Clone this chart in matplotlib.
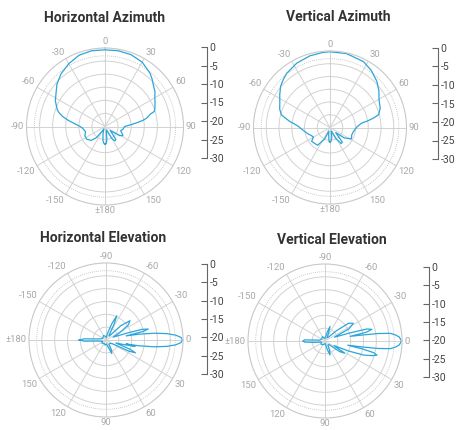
import numpy as np
import matplotlib
matplotlib.use('Agg')
import matplotlib.pyplot as plt
from matplotlib.transforms import ScaledTranslation

plt.rcParams['font.family'] = ['Roboto', 'DejaVu Sans']

# azimuth plots: angle in degrees, 0 = front, clockwise; gain in dB
ha_ang = [-180, -177, -172, -165, -155, -150, -142, -135, -125, -115, -105, -95, -90,
          -85, -80.7, -77, -73, -70, -62.5, -55, -48.5, -40, -30, -20, -10, 0, 10, 20,
          30, 40, 45, 50, 55, 60, 65, 70, 73, 75, 77, 79, 81, 83, 86, 90, 98, 105, 112,
          117, 122, 128, 133, 140, 145, 150, 158, 165, 172, 176, 180]
ha_db = [-23.3, -23.4, -24.5, -27, -29, -28, -24.5, -22.5, -21.5, -21.5, -22.3, -21.5, -20.5,
         -18.5, -15.9, -13.5, -11.5, -10.5, -8.6, -7.2, -5.5, -3.8, -2.3, -1.0, -0.6, -0.7, -0.6, -0.8,
         -1.6, -3.3, -4.5, -5.8, -6.7, -8.0, -8.9, -9.7, -10.3, -12.2, -13.0, -14.0, -15.5, -17.5, -20,
         -22.5, -23, -23.8, -23, -22.3, -23.5, -27.5, -26.5, -23.6, -23.3, -24.5, -28.5, -28, -25, -23.4, -23.3]

va_ang = [-180, -176, -170, -163, -155, -145, -135, -127, -120, -113, -106, -99, -93, -88,
          -84, -81.5, -78, -75.3, -70, -64, -57, -50.3, -44, -38.6, -27.4, -15.6, -5, 0, 12.6,
          26.8, 36, 45.4, 53, 60.5, 69, 75.3, 77.8, 80, 82, 88, 95, 102, 109, 118, 126, 132,
          140, 145, 152, 160, 170, 176, 180]
va_db = [-24.3, -24.5, -27, -28.5, -25, -21.5, -21.3, -21, -22.5, -22, -21, -20, -18.8, -17.6,
         -15.8, -14.1, -12, -10.3, -9.0, -8.1, -6.5, -4.8, -3.7, -2.8, -1.6, -0.8, -0.4, -0.3, -0.3,
         -1.0, -2.4, -4.2, -6.0, -7.9, -8.9, -10.3, -12.6, -15, -17.4, -19.3, -20.2, -20.8, -21, -20.5,
         -23, -27, -22.5, -22.3, -25, -28.5, -26, -24.5, -24.3]

# elevation plots: angle in degrees, 0 = horizon, clockwise (down) positive
he_ang = [-180, -177, -172, -160, -140, -120, -100, -85, -76, -70, -66, -63, -58, -50, -44,
          -38.8, -34, -28, -22, -18, -16.5, -14.6, -13, -11.5, -10, -8, -6, -4, -2, 0, 2, 4,
          6, 8, 10, 11, 12.3, 14, 17, 21, 23.5, 26, 30, 40, 55, 62, 67, 72, 85, 100, 120,
          140, 160, 172, 177, 180]
he_db = [-19.5, -21.5, -27, -28.5, -28.5, -28, -28.5, -29, -27, -23, -19.7, -23, -27.5, -28, -22,
         -18, -19.5, -24, -27, -21, -15.5, -13, -15, -22, -17, -11, -6.2, -2.8, -0.8, -0.2, -0.8, -2.8,
         -6.2, -11, -17, -22, -18.4, -22, -26, -20, -17.5, -20, -27, -28, -28, -25.3, -24.3, -27, -28.5,
         -28, -28.5, -28, -28.5, -27, -21.5, -19.5]

ve_ang = [-180, -177, -170, -150, -120, -95, -80, -76, -71, -66, -58, -48, -42, -37, -32,
          -27, -22, -18, -16, -14, -12, -10.5, -9, -8, -6.7, -5, -3, 0, 3, 5, 6.7, 8, 9,
          10.5, 12, 13.5, 15.2, 17, 20, 23, 27, 32, 36, 42, 55, 64, 70, 75, 85, 110, 140,
          165, 172, 177, 180]
ve_db = [-21.5, -22, -28, -28.5, -28, -29, -28, -26.5, -24, -26.5, -28.5, -28, -24, -18.5, -17,
         -19.5, -26, -20, -13, -11.2, -13.5, -20, -14.8, -9, -4.4, -2.5, -1.0, -0.2, -1.0, -2.5, -4.4, -9, -14.8,
         -21, -15, -10.5, -9, -10.5, -14, -20, -26, -21, -23, -28, -28, -26, -24.2, -26.5, -29, -28.5, -28,
         -28.5, -26, -22, -21.5]

grid_angles = np.arange(0, 360, 30)
angle_labels = ['0', '30', '60', '90', '120', '150', '\u00b1180',
                '-150', '-120', '-90', '-60', '-30']
scale_ticks = [0, -5, -10, -15, -20, -25, -30]

fig = plt.figure(figsize=(4.6, 4.3), dpi=100)
W, H = 460.0, 430.0
blue = '#2ba6da'
grid_c = '#d2d2d2'


def panel(cx, cy, R, ang, db, zero, title, tx, ty, sx, syt, syb):
    ax = fig.add_axes([(cx - R) / W, 1 - (cy + R) / H, 2 * R / W, 2 * R / H],
                      projection='polar')
    ax.set_theta_zero_location(zero)
    ax.set_theta_direction(-1)
    ax.set_ylim(-30, 0)
    ax.set_thetagrids(grid_angles, [''] * len(grid_angles))
    ax.set_rgrids([-25, -20, -15, -10, -5, -3], labels=[''] * 6)
    ax.grid(color=grid_c, lw=0.7)
    gl = ax.yaxis.get_gridlines()
    gl[-1].set_linestyle((0, (1, 1.5)))
    gl[-1].set_color('#b8b8b8')
    gl[-1].set_linewidth(0.6)
    ax.spines['polar'].set_color('#c8c8c8')
    ax.spines['polar'].set_linewidth(0.8)
    ax.tick_params(axis='both', length=0)

    # angle labels just outside the rim, anchored by their inner edge
    offset = 90 if zero == 'N' else 0
    for a, lab in zip(grid_angles, angle_labels):
        s = np.deg2rad(offset - a)
        c, n = np.cos(s), np.sin(s)
        ha = 'left' if c > 0.1 else ('right' if c < -0.1 else 'center')
        va = 'bottom' if n > 0.1 else ('top' if n < -0.1 else 'center')
        gap = (1.0 if n < -0.9 else 1.6) / 72
        tr = ax.transData + ScaledTranslation(gap * c, gap * n, fig.dpi_scale_trans)
        ax.text(np.deg2rad(a), 0, lab, transform=tr, ha=ha, va=va,
                fontsize=6.8, color='#a8a8a8', clip_on=False)

    ax.plot(np.deg2rad(ang), db, color=blue, lw=0.9)

    fig.text(tx / W, 1 - ty / H, title, ha='center', va='center',
             fontsize=10, fontweight='bold', color='#333333')

    sax = fig.add_axes([(sx - 10) / W, 1 - syb / H, 10 / W, (syb - syt) / H])
    sax.set_ylim(-30, 0)
    sax.set_yticks(scale_ticks)
    sax.set_yticklabels([str(t) for t in scale_ticks])
    sax.yaxis.tick_right()
    sax.set_xticks([])
    for s in ['left', 'top', 'bottom']:
        sax.spines[s].set_visible(False)
    sax.spines['right'].set_color('#666666')
    sax.spines['right'].set_linewidth(0.8)
    sax.tick_params(axis='y', direction='in', length=4, width=0.8, color='#666666',
                    labelcolor='#444444', labelsize=7.5, pad=2)
    sax.patch.set_visible(False)


panel(105, 126.5, 78.5, ha_ang, ha_db, 'N', 'Horizontal Azimuth', 105, 18, 207, 47, 158)
panel(330, 127.5, 76.5, va_ang, va_db, 'N', 'Vertical Azimuth', 338, 17, 438, 48, 159)
panel(106, 340, 77, he_ang, he_db, 'E', 'Horizontal Elevation', 103, 238, 207, 264, 374)
panel(325, 341, 77, ve_ang, ve_db, 'E', 'Vertical Elevation', 332, 240, 429, 267, 377)

fig.savefig('out.png', dpi=100)
